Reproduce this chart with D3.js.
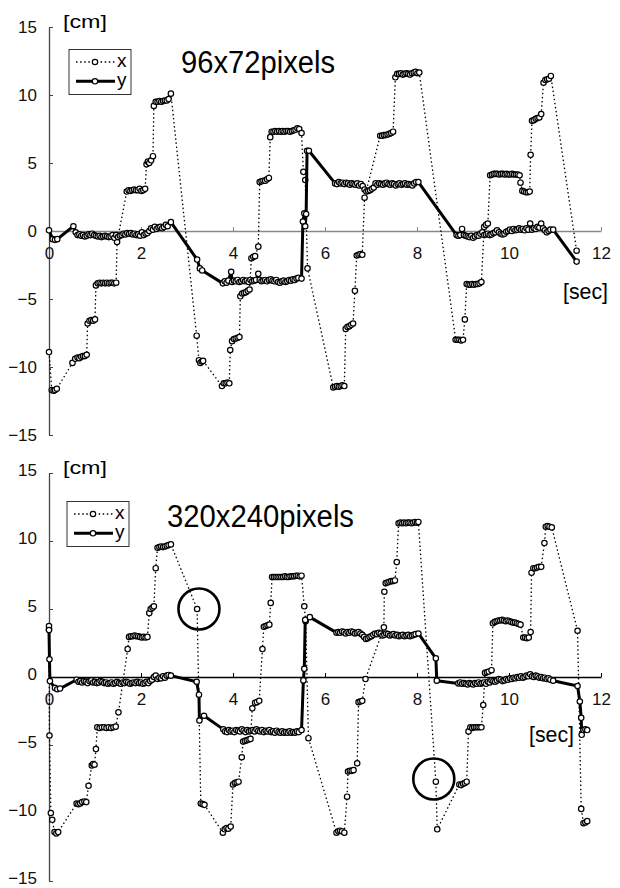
<!DOCTYPE html>
<html>
<head>
<meta charset="utf-8">
<script src="https://cdn.jsdelivr.net/npm/d3@7"></script>
<style>
  body { margin: 0; background: #fff; }
  svg { display: block; font-family: "Liberation Sans", Arial, sans-serif; }
</style>
</head>
<body>
<div id="app"></div>
<script>
// [time sec, cm]
let xTop = [
  [0.00,-8.9],[0.06,-11.7],[0.10,-11.75],[0.13,-11.7],[0.17,-11.6],
  [0.51,-9.7],[0.57,-9.4],[0.62,-9.3],[0.66,-9.35],[0.70,-9.25],[0.74,-9.2],[0.78,-9.2],[0.82,-9.1],
  [0.84,-6.8],[0.88,-6.6],[0.92,-6.55],[0.96,-6.6],[1.00,-6.5],
  [1.02,-4.0],[1.06,-3.85],[1.10,-3.8],[1.14,-3.85],[1.18,-3.8],[1.22,-3.85],[1.26,-3.8],[1.30,-3.85],[1.34,-3.8],[1.38,-3.8],[1.42,-3.85],[1.46,-3.8],
  [1.48,-0.8],
  [1.69,2.9],[1.73,3.0],[1.77,2.95],[1.81,3.0],[1.85,3.05],[1.89,3.0],[1.93,3.0],[1.97,3.1],[2.01,2.95],[2.05,3.0],[2.09,3.1],
  [2.12,4.9],[2.15,5.1],[2.18,5.0],[2.22,5.2],[2.26,5.5],
  [2.28,9.2],[2.32,9.5],[2.36,9.5],[2.40,9.55],[2.44,9.5],[2.48,9.55],[2.52,9.6],[2.56,9.6],[2.60,9.7],[2.65,10.1],
  [3.21,-7.7],[3.26,-9.5],[3.29,-9.7],[3.32,-9.6],[3.35,-9.55],
  [3.76,-11.4],[3.80,-11.2],[3.84,-11.2],[3.88,-11.15],[3.92,-11.2],
  [3.94,-8.75],[3.98,-8.1],[4.02,-7.95],[4.06,-7.9],[4.10,-7.85],[4.14,-7.8],
  [4.16,-4.8],[4.20,-4.6],[4.24,-4.55],[4.28,-4.5],[4.32,-4.4],[4.36,-4.3],
  [4.40,-2.0],[4.44,-1.9],[4.48,-1.85],[4.55,-1.15],
  [4.58,3.6],[4.62,3.65],[4.66,3.7],[4.70,3.7],[4.74,3.8],[4.78,3.9],
  [4.81,6.9],[4.84,7.3],[4.88,7.3],[4.92,7.35],[4.96,7.3],[5.00,7.35],[5.04,7.3],[5.08,7.35],[5.12,7.3],[5.16,7.35],
  [5.20,7.35],[5.24,7.3],[5.28,7.35],[5.32,7.4],[5.36,7.45],[5.40,7.55],[5.44,7.5],[5.49,7.2],
  [5.53,4.35],[5.57,3.75],[5.62,-2.75],
  [6.18,-11.5],[6.22,-11.45],[6.26,-11.4],[6.30,-11.45],[6.34,-11.4],[6.38,-11.35],[6.42,-11.4],
  [6.45,-7.2],[6.49,-7.05],[6.53,-7.0],[6.57,-6.9],[6.61,-6.8],
  [6.65,-4.4],[6.69,-1.8],[6.73,-1.75],[6.77,-1.7],[6.81,-1.75],[6.86,2.45],
  [7.20,7.0],[7.24,7.0],[7.28,7.05],[7.32,7.05],[7.36,7.1],[7.40,7.15],[7.44,7.2],[7.48,7.3],
  [7.53,11.3],[7.57,11.55],[7.61,11.55],[7.65,11.6],[7.69,11.5],[7.73,11.55],[7.77,11.6],[7.81,11.55],[7.85,11.5],
  [7.89,11.6],[7.93,11.65],[7.97,11.7],[8.01,11.6],[8.05,11.65],
  [8.84,-8.0],[8.88,-8.0],[8.92,-8.0],[8.96,-8.05],[9.00,-8.0],[9.04,-6.5],
  [9.08,-3.9],[9.12,-3.95],[9.16,-3.95],[9.20,-3.9],[9.24,-3.95],[9.28,-3.9],[9.32,-3.9],[9.36,-3.85],[9.40,-3.75],
  [9.46,0.3],[9.50,0.45],[9.54,0.55],
  [9.59,4.1],[9.63,4.15],[9.67,4.2],[9.71,4.2],[9.75,4.2],[9.79,4.15],[9.83,4.2],[9.87,4.2],[9.91,4.15],[9.95,4.2],
  [9.99,4.15],[10.03,4.15],[10.07,4.2],[10.11,4.15],[10.15,4.15],[10.19,4.15],[10.23,4.1],
  [10.25,3.55],[10.29,2.95],[10.33,2.9],[10.37,2.85],[10.41,2.85],[10.45,2.9],
  [10.47,5.6],[10.50,8.1],[10.54,8.15],[10.58,8.25],[10.62,8.3],[10.66,8.35],[10.70,8.6],
  [10.75,10.9],[10.79,11.1],[10.83,11.15],[10.87,11.2],[10.91,11.4],
  [11.47,-1.45]
]

let yTop = [
  [0.00,0.05],[0.08,-0.6],[0.13,-0.65],[0.18,-0.6],[0.53,0.35],
  [0.58,-0.1],[0.62,-0.3],[0.66,-0.25],[0.70,-0.35],[0.74,-0.3],[0.78,-0.4],[0.82,-0.35],[0.86,-0.25],[0.90,-0.3],
  [0.94,-0.2],[0.98,-0.3],[1.02,-0.35],[1.06,-0.4],[1.10,-0.35],[1.14,-0.45],[1.18,-0.4],[1.22,-0.35],[1.26,-0.4],
  [1.30,-0.45],[1.34,-0.4],[1.38,-0.3],[1.42,-0.5],[1.46,-0.3],[1.50,-0.45],[1.54,-0.35],[1.58,-0.3],[1.62,-0.2],
  [1.66,-0.25],[1.70,-0.15],[1.74,-0.2],[1.78,-0.15],[1.82,-0.25],[1.86,-0.2],[1.90,-0.3],[1.94,-0.25],[1.98,-0.35],
  [2.02,-0.1],[2.06,-0.3],[2.10,-0.2],[2.14,-0.15],[2.18,0.0],[2.22,0.2],[2.26,0.1],[2.30,0.3],[2.34,0.15],
  [2.38,0.25],[2.42,0.3],[2.46,0.2],[2.50,0.3],[2.54,0.45],[2.58,0.35],[2.65,0.65],
  [3.22,-2.1],[3.28,-2.75],[3.33,-2.9],
  [3.78,-3.85],[3.82,-3.7],[3.86,-3.8],[3.90,-3.65],[3.96,-3.0],[3.98,-3.75],[4.02,-3.65],[4.06,-3.7],[4.10,-3.6],
  [4.14,-3.75],[4.18,-3.7],[4.22,-3.6],[4.26,-3.7],[4.30,-3.65],[4.34,-3.75],[4.38,-3.6],[4.42,-3.7],[4.46,-3.65],
  [4.50,-3.6],[4.55,-3.15],[4.58,-3.6],[4.62,-3.7],[4.66,-3.65],[4.70,-3.6],[4.74,-3.7],[4.78,-3.6],[4.82,-3.55],
  [4.86,-3.65],[4.90,-3.7],[4.94,-3.6],[4.98,-3.75],[5.02,-3.8],[5.06,-3.7],[5.10,-3.65],[5.14,-3.75],[5.18,-3.7],
  [5.22,-3.6],[5.26,-3.65],[5.30,-3.55],[5.34,-3.6],[5.38,-3.5],[5.42,-3.45],[5.49,-3.5],
  [5.52,0.7],[5.55,1.3],[5.57,0.35],[5.59,1.25],[5.61,5.9],[5.65,5.9],
  [6.22,3.5],[6.26,3.45],[6.30,3.6],[6.34,3.5],[6.38,3.55],[6.42,3.45],[6.46,3.55],[6.50,3.5],[6.54,3.4],[6.58,3.5],
  [6.62,3.45],[6.66,3.4],[6.70,3.5],[6.74,3.35],[6.78,3.45],[6.82,3.3],[6.86,3.05],[6.90,2.9],[6.94,2.95],[6.98,3.0],
  [7.02,3.1],[7.06,3.2],[7.10,3.5],[7.14,3.4],[7.18,3.5],[7.22,3.45],[7.26,3.4],[7.30,3.5],[7.34,3.55],[7.38,3.45],
  [7.42,3.4],[7.46,3.5],[7.50,3.45],[7.54,3.35],[7.58,3.45],[7.62,3.5],[7.66,3.4],[7.70,3.45],[7.74,3.5],[7.78,3.4],
  [7.82,3.45],[7.86,3.4],[7.90,3.35],[7.94,3.5],[7.98,3.6],[8.03,3.6],
  [8.86,-0.3],[8.90,-0.35],[8.94,-0.3],[8.98,0.15],[9.02,-0.3],[9.06,-0.35],[9.10,-0.4],[9.14,-0.45],[9.18,-0.35],
  [9.22,-0.5],[9.26,-0.4],[9.30,-0.3],[9.34,-0.35],[9.38,-0.2],[9.42,-0.1],[9.46,-0.3],[9.50,-0.25],[9.54,-0.2],
  [9.58,-0.3],[9.62,-0.25],[9.66,-0.15],[9.70,-0.1],[9.74,0.05],[9.78,-0.1],[9.82,-0.2],[9.86,-0.25],[9.90,-0.2],
  [9.94,-0.05],[9.98,0.0],[10.02,0.1],[10.06,0.0],[10.10,0.15],[10.14,0.05],[10.18,0.1],[10.22,0.2],[10.26,0.1],
  [10.30,0.15],[10.34,0.05],[10.38,0.2],[10.42,0.1],[10.46,0.55],[10.50,0.1],[10.54,0.2],[10.58,0.15],[10.62,0.3],
  [10.66,0.25],[10.70,0.55],[10.74,0.2],[10.78,0.05],[10.82,-0.1],[10.86,0.0],[10.90,0.1],[10.96,0.1],
  [11.47,-2.25]
]

let xBottom = [
  [0.00,3.5],[0.01,-4.3],[0.04,-10.0],[0.07,-10.5],[0.12,-11.4],[0.16,-11.5],[0.20,-11.4],
  [0.60,-9.3],[0.64,-9.35],[0.68,-9.3],[0.72,-9.2],[0.77,-9.15],[0.81,-9.2],[0.86,-8.0],
  [0.93,-6.5],[0.96,-6.4],[0.99,-6.45],[1.02,-5.3],
  [1.05,-3.7],[1.10,-3.75],[1.15,-3.7],[1.20,-3.7],[1.25,-3.75],[1.30,-3.7],[1.35,-3.75],[1.40,-3.7],[1.45,-3.65],
  [1.51,-2.6],[1.71,2.05],
  [1.74,2.95],[1.78,3.0],[1.82,3.0],[1.86,3.05],[1.90,3.0],[1.94,3.0],[1.98,2.95],[2.02,2.9],[2.06,2.95],[2.10,2.9],[2.14,2.95],
  [2.18,4.7],[2.21,5.0],[2.25,5.1],[2.28,5.2],[2.32,8.0],
  [2.36,9.5],[2.40,9.55],[2.44,9.6],[2.48,9.55],[2.52,9.6],[2.56,9.65],[2.60,9.7],[2.65,9.75],
  [3.22,5.0],[3.30,-9.3],[3.34,-9.35],[3.38,-9.4],
  [3.78,-11.45],[3.82,-11.2],[3.86,-11.1],[3.90,-11.15],[3.95,-11.0],
  [4.00,-7.9],[4.04,-7.8],[4.08,-7.75],[4.12,-7.7],[4.19,-5.9],
  [4.22,-4.75],[4.26,-4.7],[4.30,-4.65],[4.34,-4.6],[4.38,-4.55],
  [4.42,-2.3],[4.48,-1.9],[4.52,-1.85],[4.57,-1.75],[4.64,2.05],
  [4.67,3.7],[4.71,3.75],[4.75,3.8],[4.79,3.85],[4.82,5.45],
  [4.85,7.35],[4.89,7.35],[4.93,7.35],[4.97,7.35],[5.01,7.35],[5.05,7.35],[5.09,7.35],[5.13,7.4],[5.17,7.35],
  [5.21,7.35],[5.25,7.4],[5.29,7.4],[5.33,7.4],[5.37,7.45],[5.41,7.45],[5.45,7.4],[5.49,7.45],
  [5.55,5.2],[5.58,4.1],[5.64,-4.5],
  [6.25,-11.45],[6.29,-11.35],[6.33,-11.3],[6.37,-11.35],[6.42,-11.45],[6.48,-8.8],
  [6.50,-6.95],[6.54,-6.9],[6.58,-6.9],[6.62,-6.85],[6.70,-6.35],
  [6.73,-1.85],[6.77,-1.8],[6.81,-1.75],[6.88,-0.15],
  [7.28,3.65],[7.29,6.27],[7.32,6.9],[7.36,6.95],[7.40,7.0],[7.44,7.05],[7.48,7.05],[7.52,7.1],[7.56,8.45],
  [7.60,11.3],[7.64,11.35],[7.68,11.3],[7.72,11.35],[7.76,11.3],[7.80,11.35],[7.84,11.35],[7.88,11.3],[7.92,11.35],
  [7.96,11.4],[8.00,11.35],[8.03,11.4],
  [8.41,-7.7],[8.44,-11.2],
  [8.92,-7.9],[8.96,-7.95],[9.00,-7.85],[9.04,-7.8],[9.08,-7.7],
  [9.12,-4.0],[9.16,-3.7],[9.20,-3.75],[9.24,-3.7],[9.28,-3.7],[9.32,-3.7],[9.36,-3.7],[9.40,-3.7],
  [9.44,-2.06],[9.48,0.3],[9.52,0.35],[9.56,0.4],[9.62,0.5],
  [9.65,3.95],[9.69,4.05],[9.73,4.1],[9.77,4.15],[9.81,4.15],[9.85,4.2],[9.89,4.15],[9.93,4.1],[9.97,4.15],
  [10.01,4.1],[10.05,4.05],[10.09,4.0],[10.13,4.0],[10.17,3.95],[10.21,3.9],[10.25,3.85],
  [10.31,2.9],[10.35,2.9],[10.39,2.85],[10.43,2.9],[10.47,3.3],
  [10.49,7.67],[10.53,8.0],[10.57,8.0],[10.61,8.05],[10.65,8.1],[10.70,8.1],
  [10.77,9.85],[10.80,11.05],[10.84,11.1],[10.88,11.05],[10.93,11.0],
  [11.49,3.4],[11.57,-9.7],[11.62,-10.75],[11.66,-10.7],[11.70,-10.6]
]

let yBottom = [
  [0.00,3.75],[0.00,3.45],[0.01,1.3],[0.02,-0.3],[0.13,-0.8],[0.18,-0.9],[0.24,-0.85],
  [0.60,-0.2],[0.64,-0.35],[0.68,-0.3],[0.72,-0.4],[0.76,-0.3],[0.80,-0.35],[0.84,-0.45],[0.88,-0.3],[0.92,-0.25],
  [0.96,-0.4],[1.00,-0.35],[1.04,-0.45],[1.08,-0.4],[1.12,-0.3],[1.16,-0.35],[1.20,-0.45],[1.24,-0.4],[1.28,-0.5],
  [1.32,-0.45],[1.36,-0.4],[1.40,-0.5],[1.44,-0.45],[1.48,-0.35],[1.52,-0.45],[1.56,-0.5],[1.60,-0.4],[1.64,-0.45],
  [1.68,-0.35],[1.72,-0.4],[1.76,-0.5],[1.80,-0.45],[1.84,-0.4],[1.88,-0.45],[1.92,-0.35],[1.96,-0.45],[2.00,-0.4],
  [2.04,-0.5],[2.08,-0.45],[2.12,-0.35],[2.16,-0.45],[2.20,-0.3],[2.24,-0.2],[2.28,0.0],[2.32,0.1],[2.36,-0.15],
  [2.40,-0.05],[2.44,-0.1],[2.48,0.05],[2.52,-0.05],[2.56,0.1],[2.60,0.15],[2.65,0.1],
  [3.21,-0.35],[3.26,-1.3],[3.27,-3.2],[3.37,-2.85],
  [3.79,-3.85],[3.83,-4.0],[3.87,-4.05],[3.91,-3.9],[3.95,-4.0],[3.99,-3.95],[4.03,-4.05],[4.07,-3.9],[4.11,-3.95],
  [4.15,-4.0],[4.19,-3.85],[4.23,-3.95],[4.27,-4.05],[4.31,-3.9],[4.35,-4.0],[4.39,-3.95],[4.43,-3.9],[4.47,-4.0],
  [4.51,-3.85],[4.55,-3.95],[4.59,-4.0],[4.63,-3.9],[4.67,-4.05],[4.71,-3.95],[4.75,-4.0],[4.79,-3.9],[4.83,-4.05],
  [4.87,-4.0],[4.91,-4.1],[4.95,-3.95],[4.99,-4.05],[5.03,-4.1],[5.07,-4.0],[5.11,-4.1],[5.15,-4.05],[5.19,-4.1],
  [5.23,-4.0],[5.27,-4.1],[5.31,-4.05],[5.35,-4.1],[5.39,-4.0],[5.43,-4.05],[5.49,-3.9],
  [5.53,-0.25],[5.55,0.6],[5.57,4.2],[5.67,4.4],
  [6.25,3.26],[6.29,3.3],[6.33,3.25],[6.37,3.35],[6.41,3.3],[6.45,3.2],[6.49,3.3],[6.53,3.25],[6.57,3.35],[6.61,3.3],
  [6.65,3.2],[6.69,3.25],[6.73,3.3],[6.77,3.2],[6.81,3.1],[6.85,2.95],[6.89,2.8],[6.93,2.85],[6.97,2.95],[7.01,3.0],
  [7.05,3.1],[7.09,3.2],[7.13,3.15],[7.17,3.25],[7.21,3.2],[7.25,3.05],[7.29,3.1],[7.33,3.2],[7.37,3.15],[7.41,3.05],
  [7.45,3.1],[7.49,3.15],[7.53,3.05],[7.57,3.1],[7.61,3.0],[7.65,3.05],[7.69,3.1],[7.73,3.0],[7.77,3.05],[7.81,3.1],
  [7.85,3.0],[7.89,3.05],[7.93,3.1],[7.97,3.15],[8.03,3.2],
  [8.41,1.37],[8.43,-0.27],
  [8.90,-0.47],[8.94,-0.4],[8.98,-0.5],[9.02,-0.45],[9.06,-0.5],[9.10,-0.55],[9.14,-0.45],[9.18,-0.5],[9.22,-0.55],
  [9.26,-0.45],[9.30,-0.5],[9.34,-0.4],[9.38,-0.5],[9.42,-0.45],[9.46,-0.4],[9.50,-0.5],[9.54,-0.35],[9.58,-0.4],
  [9.62,-0.25],[9.66,-0.3],[9.70,-0.35],[9.74,-0.25],[9.78,-0.15],[9.82,-0.2],[9.86,-0.3],[9.90,-0.25],[9.94,-0.15],
  [9.98,-0.2],[10.02,-0.1],[10.06,-0.15],[10.10,-0.05],[10.14,-0.1],[10.18,0.0],[10.22,-0.05],[10.26,0.05],
  [10.30,-0.05],[10.34,0.0],[10.38,0.1],[10.42,0.05],[10.46,0.2],[10.50,0.05],[10.54,0.0],[10.58,0.1],[10.62,0.05],
  [10.66,-0.05],[10.70,0.0],[10.74,-0.1],[10.78,-0.05],[10.82,-0.15],[10.86,-0.1],[10.90,-0.2],[10.96,-0.27],
  [11.49,-0.66],[11.54,-1.8],[11.57,-3.0],[11.58,-4.25],[11.62,-3.9],[11.66,-3.85],[11.70,-3.9]
]

let xTicks = [0, 2, 4, 6, 8, 10, 12]
let yTicks = [-15, -10, -5, 0, 5, 10, 15]
let seriesNames = ['x', 'y']
let circleMarks = [[3.26, 5.0], [8.365, -7.5]]

const svg = d3.select('#app').append('svg')
  .attr('width', 620)
  .attr('height', 888)

svg.append('rect').attr('width', 620).attr('height', 888).attr('fill', '#fff')

const xScale = d3.scaleLinear().domain([0, 12]).range([49, 601])
const markR = 2.7

let drawPanel = (opt) => {
  const g = svg.append('g')
  const y = d3.scaleLinear().domain([-15, 15]).range([opt.y0 + 204, opt.y0 - 204])

  // y axis, ticks pointing inward
  let ya = g.append('g')
    .attr('transform', 'translate(49,0)')
    .call(d3.axisLeft(y).tickValues(yTicks).tickSize(-4).tickSizeOuter(0).tickPadding(12))
  ya.select('.domain').attr('stroke', '#444').attr('stroke-width', 1.3)
  ya.selectAll('.tick line').attr('stroke', '#444')
  ya.selectAll('.tick text')
    .attr('dy', opt.labelDy)
    .attr('font-size', 17).attr('font-family', '"Liberation Sans", Arial, sans-serif').attr('fill', '#111')

  // x axis through zero
  let xa = g.append('g')
    .attr('transform', `translate(0,${y(0)})`)
    .call(d3.axisBottom(xScale).tickValues(xTicks).tickSize(-4).tickSizeOuter(0).tickPadding(16))
  xa.select('.domain').attr('stroke', opt.axisColor).attr('stroke-width', 1.3)
  xa.selectAll('.tick line').attr('stroke', opt.axisColor)
  xa.selectAll('.tick text')
    .attr('font-size', 17).attr('font-family', '"Liberation Sans", Arial, sans-serif').attr('fill', '#111')

  const line = d3.line().x(d => xScale(d[0])).y(d => y(d[1]))

  g.append('path')
    .datum(opt.xs)
    .attr('d', line)
    .attr('fill', 'none')
    .attr('stroke', '#000')
    .attr('stroke-width', 1.3)
    .attr('stroke-dasharray', '1.5,2.6')

  g.append('g').selectAll('circle')
    .data(opt.xs)
    .enter()
    .append('circle')
    .attr('cx', d => xScale(d[0]))
    .attr('cy', d => y(d[1]))
    .attr('r', markR)
    .attr('fill', '#fff')
    .attr('stroke', '#000')
    .attr('stroke-width', 1.2)

  g.append('path')
    .datum(opt.ys)
    .attr('d', line)
    .attr('fill', 'none')
    .attr('stroke', '#000')
    .attr('stroke-width', 3)
    .attr('stroke-linejoin', 'round')

  g.append('g').selectAll('circle')
    .data(opt.ys)
    .enter()
    .append('circle')
    .attr('cx', d => xScale(d[0]))
    .attr('cy', d => y(d[1]))
    .attr('r', markR)
    .attr('fill', '#fff')
    .attr('stroke', '#000')
    .attr('stroke-width', 1.2)

  // unit labels
  g.append('text')
    .attr('x', 63).attr('y', opt.y0 - 203)
    .attr('font-size', 19)
    .attr('textLength', 44).attr('lengthAdjust', 'spacingAndGlyphs')
    .text('[cm]')
  g.append('text')
    .attr('x', opt.secX).attr('y', opt.secY)
    .attr('font-size', 22)
    .attr('textLength', 45).attr('lengthAdjust', 'spacingAndGlyphs')
    .text('[sec]')

  // title
  g.append('text')
    .attr('x', opt.titleX).attr('y', opt.titleY)
    .attr('font-size', 31)
    .attr('textLength', opt.titleW).attr('lengthAdjust', 'spacingAndGlyphs')
    .text(opt.title)

  // legend
  const lg = g.append('g').attr('transform', `translate(${opt.legX},${opt.legY})`)
  lg.append('rect')
    .attr('width', 62).attr('height', 45)
    .attr('fill', '#fff').attr('stroke', '#333').attr('stroke-width', 1)
  seriesNames.forEach((name, i) => {
    let ry = 12.5 + i * 19.3
    lg.append('line')
      .attr('x1', 7).attr('x2', 46).attr('y1', ry).attr('y2', ry)
      .attr('stroke', '#000')
      .attr('stroke-width', i === 0 ? 1.3 : 3)
      .attr('stroke-dasharray', i === 0 ? '1.5,2.6' : null)
    lg.append('circle')
      .attr('cx', 26).attr('cy', ry).attr('r', markR)
      .attr('fill', '#fff').attr('stroke', '#000').attr('stroke-width', 1.2)
    lg.append('text')
      .attr('x', 48).attr('y', ry + 5)
      .attr('font-size', 19)
      .text(name)
  })

  if (opt.circles) {
    g.append('g').selectAll('circle')
      .data(circleMarks)
      .enter()
      .append('circle')
      .attr('cx', d => xScale(d[0]))
      .attr('cy', d => y(d[1]))
      .attr('r', 20.5)
      .attr('fill', 'none')
      .attr('stroke', '#000')
      .attr('stroke-width', 2.6)
  }
}

drawPanel({
  y0: 231, xs: xTop, ys: yTop, axisColor: '#888', labelDy: '0.32em',
  title: '96x72pixels', titleX: 181, titleY: 72.5, titleW: 154,
  legX: 69, legY: 49.5, secX: 563, secY: 299, circles: false
})

drawPanel({
  y0: 677, xs: xBottom, ys: yBottom, axisColor: '#000', labelDy: '0.16em',
  title: '320x240pixels', titleX: 167, titleY: 527, titleW: 187,
  legX: 67, legY: 501.5, secX: 529, secY: 742, circles: true
})
</script>
</body>
</html>
